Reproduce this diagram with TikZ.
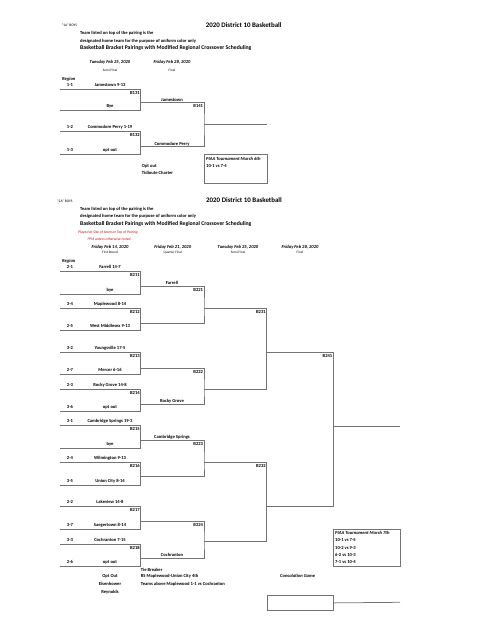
\documentclass[tikz,border=0pt]{standalone}
\usepackage{fontspec}
\setmainfont{Carlito}
\usetikzlibrary{positioning}
\definecolor{noteRed}{RGB}{200,20,20}

\begin{document}
\begin{tikzpicture}[
    x=1pt, y=-1pt,
    line/.style={draw=black!55, line width=0.75pt},
    txt/.style={inner sep=0pt, font=\fontsize{4.6}{5}\selectfont\bfseries},
    team/.style={txt, anchor=base},
    lefttxt/.style={txt, anchor=base west},
    game/.style={txt, anchor=north east, xshift=-0.8pt, yshift=-1.8pt},
    boys/.style={inner sep=0pt, anchor=base west, font=\fontsize{3.6}{4}\selectfont},
    title/.style={inner sep=0pt, anchor=base west, font=\fontsize{6.9}{7}\selectfont\bfseries},
    subtitle/.style={inner sep=0pt, anchor=base west, font=\fontsize{5.7}{6}\selectfont\bfseries},
    datetxt/.style={inner sep=0pt, anchor=base, font=\fontsize{4.6}{5}\selectfont\bfseries\itshape},
    roundtxt/.style={inner sep=0pt, anchor=base, font=\fontsize{3.4}{4}\selectfont},
    redtxt/.style={inner sep=0pt, anchor=base west, text=noteRed, font=\fontsize{3.8}{4}\selectfont\itshape},
    region/.style={inner sep=0pt, anchor=base west, font=\fontsize{4.6}{5}\selectfont\bfseries\itshape}
]
    \useasboundingbox (0,0) rectangle (487,630);

    % 1A header
    \node[boys] (boys1) at (61.7,26.5) {"1A" BOYS};
    \node[title] (title1) at (205.7,27) {2020 District 10 Basketball};
    \node[lefttxt] (info1a) at (80,34.8) {Team listed on top of the pairing is the};
    \node[lefttxt] (info1b) at (80,42) {designated home team for the purpose of uniform color only};
    \node[subtitle] (sub1) at (80,49.5) {Basketball Bracket Pairings with Modified Regional Crossover Scheduling};
    \node[datetxt] (d1a) at (110,63.8) {Tuesday Feb 25, 2020};
    \node[roundtxt] (r1a) at (110,71) {Semi-Final};
    \node[datetxt] (d1b) at (172,63.8) {Friday Feb 28, 2020};
    \node[roundtxt] (r1b) at (172,71) {Final};
    \node[region] (reg1) at (62,80.5) {Region};

    % 2A header
    \node[boys] (boys2) at (57,202.2) {"2A" BOYS};
    \node[title] (title2) at (206,202.5) {2020 District 10 Basketball};
    \node[lefttxt] (info2a) at (80,210.5) {Team listed on top of the pairing is the};
    \node[lefttxt] (info2b) at (80,217.2) {designated home team for the purpose of uniform color only};
    \node[subtitle] (sub2) at (80,225.8) {Basketball Bracket Pairings with Modified Regional Crossover Scheduling};
    \node[redtxt] (red2a) at (78,233.2) {Played at Site of team at Top of Pairing};
    \node[redtxt] (red2b) at (87,240.2) {7PM unless otherwise noted};
    \foreach \x/\d/\r [count=\i] in {110/{Friday Feb 14, 2020}/First Round, 172.7/{Friday Feb 21, 2020}/Quarter Final,
        238/{Tuesday Feb 25, 2020}/Semi-Final, 300/{Friday Feb 28, 2020}/Final}
    {
        \node[datetxt] (d2\i) at (\x,248.2) {\d};
        \node[roundtxt] (r2\i) at (\x,253.8) {\r};
    }
    \node[region] (reg2) at (62,262.5) {Region};

    % first round pairings
    \foreach \t/\b/\o/\g/\ra/\ta/\rb/\tb in {
        89/110/102.7/B131/1-1/Jamestown 9-13/{}/Bye,
        131.7/154/146.7/B132/1-2/Commodore Perry 1-19/1-3/opt out,
        271.7/294/286/B211/2-1/Farrell 14-7/{}/bye,
        308.7/330.7/323.3/B212/3-4/Maplewood 8-14/2-5/West Middlesex 9-13,
        352.7/374.3/368.3/B213/3-2/Youngsville 17-5/2-7/Mercer 6-16,
        389.3/411.7/404.3/B214/2-3/Rocky Grove 14-8/3-6/opt out,
        425.7/448.3/440/B215/3-1/Cambridge Springs 19-3/{}/bye,
        462.7/485/476.7/B216/2-4/Wilmington 9-13/3-5/Union City 8-14,
        506.7/529.3/521.7/B217/2-2/Lakeview 14-8/3-7/Saegertown 8-14,
        544/566/558.3/B218/3-3/Cochranton 7-15/2-6/opt out}
    {
        \draw[line] (60,\t) -- (140.7,\t) -- (140.7,\b) -- (60,\b);
        \coordinate (\g) at (140.7,\o);
        \node[game] (l\g) at (140.7,\t) {\g};
        \node[team] (ra\g) at (70,\t-2.8) {\ra};
        \node[team] (ta\g) at (110,\t-2.8) {\ta};
        \node[team] (rb\g) at (70,\b-2.8) {\rb};
        \node[team] (tb\g) at (110,\b-2.8) {\tb};
    }

    % later rounds
    \coordinate (B141) at (204,124.3);
    \coordinate (B221) at (204,308.7);
    \coordinate (B222) at (204,389.3);
    \coordinate (B223) at (204,462.7);
    \coordinate (B224) at (204,541);
    \coordinate (B231) at (266.7,352.7);
    \coordinate (B232) at (266.7,506.7);
    \coordinate (B241) at (333.3,426);
    \foreach \w/\a/\b in {B141/B131/B132, B221/B211/B212, B222/B213/B214, B223/B215/B216,
        B224/B217/B218, B231/B221/B222, B232/B223/B224, B241/B231/B232}
    {
        \draw[line] (\a) -| (\w) |- (\b);
        \node[game] (l\w) at (\a -| \w) {\w};
    }
    \coordinate (fin1) at (266.7,124.3);
    \coordinate (fin2) at (400,426);
    \draw[line] (B141) -- (fin1);
    \draw[line] (B241) -- (fin2);

    % winners carried forward
    \node[team] (w1a) at (172,101.1) {Jamestown};
    \node[team] (w1b) at (172,145.1) {Commodore Perry};
    \node[team] (w21) at (172,284.4) {Farrell};
    \node[team] (w22) at (172,402.7) {Rocky Grove};
    \node[team] (w23) at (172,438.4) {Cambridge Springs};
    \node[team] (w24) at (172,556.7) {Cochranton};

    % 1A notes
    \node[lefttxt] (opt1) at (141.7,167.5) {Opt out};
    \node[lefttxt] (opt1b) at (141.7,174.8) {Tidioute Charter};
    \node[line, rectangle, minimum width=62.7pt, minimum height=29.3pt, anchor=north west] (piaa1) at (204,154) {};
    \node[lefttxt, font=\fontsize{4.6}{5}\selectfont\bfseries\itshape] (piaa1t) at (206,160.5) {PIAA Tournament March 6th};
    \node[lefttxt] (piaa1a) at (206,167.5) {10-1 vs 7-4};

    % 2A notes
    \node[line, rectangle, minimum width=66.7pt, minimum height=36.4pt, anchor=north west] (piaa2) at (333.3,529.3) {};
    \node[lefttxt, font=\fontsize{4.6}{5}\selectfont\bfseries\itshape] (piaa2t) at (335,534.8) {PIAA Tournament March 7th};
    \foreach \m [count=\i] in {10-1 vs 7-5, 10-2 vs 9-3, 6-2 vs 10-3, 7-1 vs 10-4}
        \node[lefttxt] (piaa2\i) at (335,534.8+7.1*\i) {\m};

    \node[lefttxt] (tie) at (140.7,571.5) {Tie Breaker};
    \node[team] (opt2) at (110,577.2) {Opt Out};
    \node[lefttxt] (tie1) at (140.7,577.2) {RS Maplewood-Union City 4th};
    \node[team] (opt2a) at (110,585.5) {Eisenhower};
    \node[lefttxt] (tie2) at (140.7,585.5) {Teams above Maplewood 1-1 vs Cochranton};
    \node[team] (opt2b) at (110,593.8) {Reynolds};
    \node[lefttxt, font=\fontsize{4.6}{5}\selectfont\bfseries\itshape] (cons) at (280,577.2) {Consolation Game};
    \node[line, rectangle, minimum width=66.6pt, minimum height=15pt, anchor=north west] (consbox) at (266.7,595) {};
    \coordinate (consend) at (400,602.3);
    \draw[line] (consbox.east) -- (consend);
\end{tikzpicture}
\end{document}
